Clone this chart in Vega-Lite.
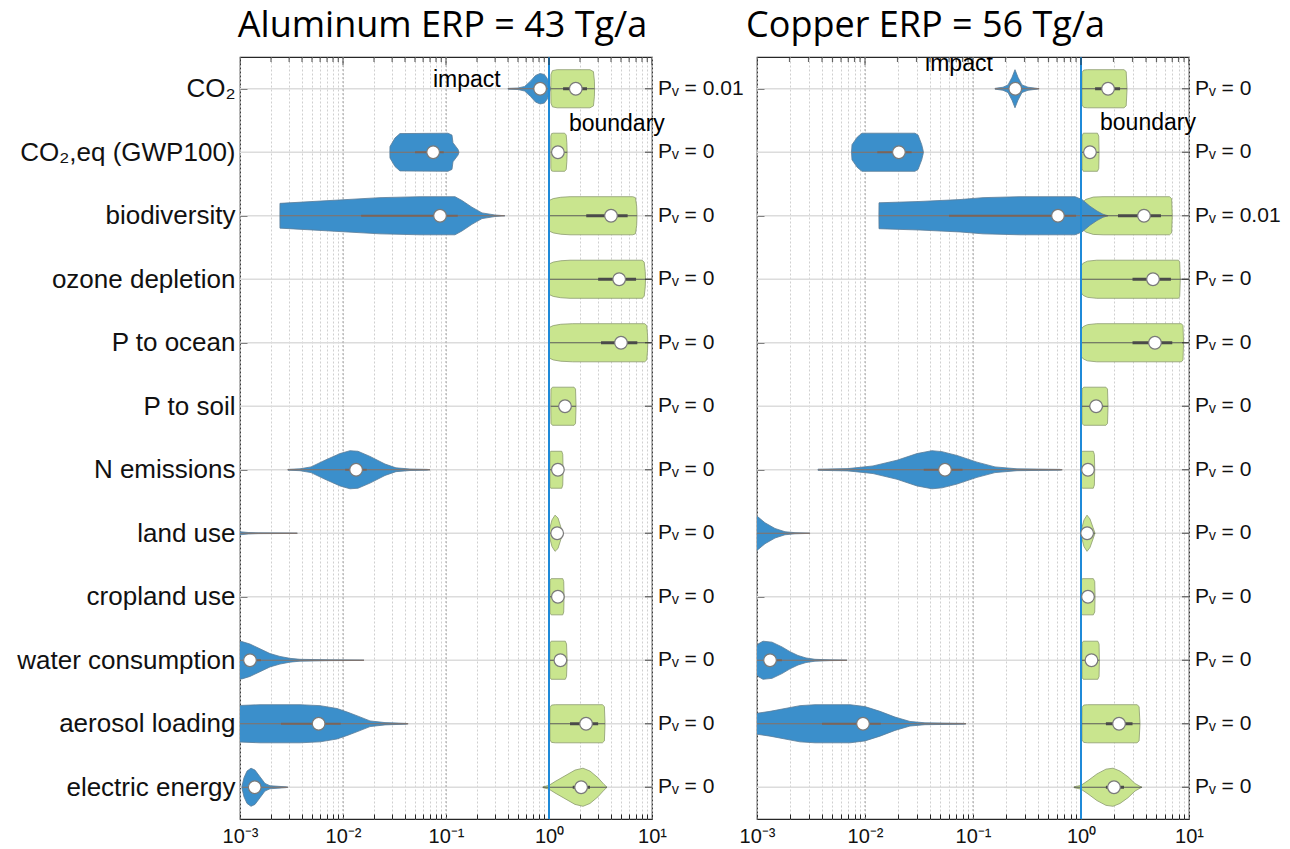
{
  "$schema": "https://vega.github.io/schema/vega-lite/v6.json",
  "padding": {"left": 16, "top": 7, "right": 0, "bottom": 0},
  "background": "white",
  "config": {
    "view": {"stroke": "#262626", "strokeWidth": 1.2},
    "font": "Liberation Sans",
    "axis": {"domain": false, "labelFont": "Liberation Sans", "labelColor": "#111111", "tickColor": "#262626", "title": null}
  },
  "spacing": -7,
  "datasets": {
    "rows": [{"i":0,"pAl":"0.01","pCu":"0"},{"i":1,"pAl":"0","pCu":"0"},{"i":2,"pAl":"0","pCu":"0.01"},{"i":3,"pAl":"0","pCu":"0"},{"i":4,"pAl":"0","pCu":"0"},{"i":5,"pAl":"0","pCu":"0"},{"i":6,"pAl":"0","pCu":"0"},{"i":7,"pAl":"0","pCu":"0"},{"i":8,"pAl":"0","pCu":"0"},{"i":9,"pAl":"0","pCu":"0"},{"i":10,"pAl":"0","pCu":"0"},{"i":11,"pAl":"0","pCu":"0"}],
    "refs": [{"v": 1}],
    "xticks": [{"t":0.001},{"t":0.002},{"t":0.003},{"t":0.004},{"t":0.005},{"t":0.006},{"t":0.007},{"t":0.008},{"t":0.009},{"t":0.01},{"t":0.02},{"t":0.03},{"t":0.04},{"t":0.05},{"t":0.06},{"t":0.07},{"t":0.08},{"t":0.09},{"t":0.1},{"t":0.2},{"t":0.3},{"t":0.4},{"t":0.5},{"t":0.6},{"t":0.7},{"t":0.8},{"t":0.9},{"t":1},{"t":2},{"t":3},{"t":4},{"t":5},{"t":6},{"t":7},{"t":8},{"t":9},{"t":10}],
    "notes": [
      {"panel":"Al","text":"impact","x":0.0748,"y":-0.13,"clip":"no"},
      {"panel":"Al","text":"boundary","x":1.56,"y":0.55,"clip":"no"},
      {"panel":"Cu","text":"impact","x":0.036,"y":-0.39,"clip":"yes"},
      {"panel":"Cu","text":"boundary","x":1.5,"y":0.535,"clip":"no"}
    ],
    "violins": [
      {"panel":"Al","row":0,"type":"boundary","x":[1.04,1.045,1.08,1.2,2.5,2.7,2.76,2.77],"d":[0,0.75,0.95,1,1,0.9,0.4,0]},
      {"panel":"Al","row":1,"type":"boundary","x":[1.04,1.042,1.06,1.1,1.42,1.47,1.49,1.5],"d":[0,0.85,0.98,1,1,0.9,0.5,0]},
      {"panel":"Al","row":2,"type":"boundary","x":[1.0,1.002,1.1,1.3,1.6,6.5,6.9,7.1,7.15],"d":[0,0.8,0.9,0.97,1,1,0.95,0.5,0]},
      {"panel":"Al","row":3,"type":"boundary","x":[1.0,1.002,1.1,1.3,1.6,8.0,8.4,8.6,8.65],"d":[0,0.8,0.9,0.97,1,1,0.9,0.4,0]},
      {"panel":"Al","row":4,"type":"boundary","x":[1.0,1.002,1.1,1.3,1.7,8.5,8.9,9.05,9.1],"d":[0,0.8,0.9,0.97,1,1,0.9,0.4,0]},
      {"panel":"Al","row":5,"type":"boundary","x":[1.04,1.045,1.08,1.75,1.81,1.83],"d":[0,0.9,1,1,0.9,0]},
      {"panel":"Al","row":6,"type":"boundary","x":[1.02,1.022,1.04,1.33,1.36,1.37],"d":[0,0.9,0.97,0.97,0.8,0]},
      {"panel":"Al","row":7,"type":"boundary","x":[0.995,1.0,1.069,1.144,1.223,1.307,1.368],"d":[0,0.1,0.7,0.95,0.8,0.3,0]},
      {"panel":"Al","row":8,"type":"boundary","x":[1.02,1.022,1.05,1.36,1.39,1.4],"d":[0,0.85,0.95,0.95,0.8,0]},
      {"panel":"Al","row":9,"type":"boundary","x":[1.02,1.022,1.05,1.44,1.48,1.5],"d":[0,0.9,1,1,0.85,0]},
      {"panel":"Al","row":10,"type":"boundary","x":[1.02,1.022,1.06,1.15,3.3,3.45,3.5],"d":[0,0.85,0.98,1,1,0.9,0]},
      {"panel":"Al","row":11,"type":"boundary","x":[0.874,1.0,1.144,1.43,1.788,2.138,2.5,2.99,3.42,3.66],"d":[0.02,0.1,0.3,0.6,0.9,1,0.85,0.5,0.15,0]},
      {"panel":"Al","row":0,"type":"impact","x":[0.4,0.5,0.58,0.66,0.74,0.82,0.9,0.96,1.0,1.03],"d":[0.02,0.04,0.12,0.4,0.7,0.8,0.75,0.55,0.25,0.04]},
      {"panel":"Al","row":1,"type":"impact","x":[0.0285,0.02858,0.03197,0.0357,0.1045,0.1143,0.1169,0.1309,0.1337],"d":[0,0.3,0.75,0.98,1,0.9,0.5,0.15,0]},
      {"panel":"Al","row":2,"type":"impact","x":[0.00244,0.002443,0.00748,0.02286,0.056,0.1223,0.1429,0.1786,0.2237,0.299,0.374],"d":[0,0.65,0.8,0.95,1,1,0.8,0.45,0.15,0.04,0]},
      {"panel":"Al","row":6,"type":"impact","x":[0.002924,0.003825,0.004891,0.006687,0.009352,0.0117,0.01398,0.01829,0.02557,0.0327,0.04472,0.06538,0.06994],"d":[0.02,0.05,0.15,0.5,0.85,1,0.97,0.7,0.3,0.1,0.04,0.02,0]},
      {"panel":"Al","row":7,"type":"impact","x":[0.0005,0.001,0.0012,0.0015,0.0035,0.0036],"d":[0.2,0.08,0.04,0.02,0.01,0]},
      {"panel":"Al","row":9,"type":"impact","x":[0.000894,0.001045,0.00125,0.001564,0.001955,0.002443,0.003057,0.003825,0.00748,0.0153,0.016],"d":[1,0.98,0.85,0.6,0.35,0.2,0.1,0.05,0.02,0.01,0]},
      {"panel":"Al","row":10,"type":"impact","x":[0.000894,0.001564,0.003825,0.00598,0.008744,0.01118,0.01398,0.01829,0.02557,0.04089,0.04276],"d":[0.95,1,1,0.95,0.8,0.6,0.4,0.15,0.06,0.02,0]},
      {"panel":"Al","row":11,"type":"impact","x":[0.001045,0.001093,0.00117,0.001279,0.001398,0.001564,0.001749,0.001955,0.002796,0.002924],"d":[0.05,0.5,0.85,1,0.9,0.55,0.2,0.08,0.02,0]},
      {"panel":"Cu","row":0,"type":"boundary","x":[1.02,1.022,1.06,1.15,2.5,2.62,2.67],"d":[0,0.85,0.98,1,1,0.9,0]},
      {"panel":"Cu","row":1,"type":"boundary","x":[1.02,1.022,1.05,1.42,1.46,1.47],"d":[0,0.85,1,1,0.85,0]},
      {"panel":"Cu","row":2,"type":"boundary","x":[1.0,1.005,1.1,1.3,1.6,6.6,6.9,7.0],"d":[0,0.6,0.85,0.98,1,1,0.9,0]},
      {"panel":"Cu","row":3,"type":"boundary","x":[1.0,1.002,1.05,1.15,1.4,8.0,8.2,8.3],"d":[0,0.7,0.85,0.95,1,1,0.9,0]},
      {"panel":"Cu","row":4,"type":"boundary","x":[1.0,1.002,1.05,1.15,1.4,8.5,8.8,8.9],"d":[0,0.7,0.85,0.95,1,1,0.9,0]},
      {"panel":"Cu","row":5,"type":"boundary","x":[1.02,1.022,1.06,1.7,1.76,1.78],"d":[0,0.9,1,1,0.9,0]},
      {"panel":"Cu","row":6,"type":"boundary","x":[1.0,1.003,1.03,1.3,1.33,1.34],"d":[0,0.9,0.97,0.97,0.8,0]},
      {"panel":"Cu","row":7,"type":"boundary","x":[0.995,1.0,1.066,1.137,1.211,1.292,1.348],"d":[0,0.1,0.7,0.95,0.75,0.3,0]},
      {"panel":"Cu","row":8,"type":"boundary","x":[1.0,1.003,1.03,1.3,1.34,1.35],"d":[0,0.85,0.95,0.95,0.8,0]},
      {"panel":"Cu","row":9,"type":"boundary","x":[1.02,1.022,1.05,1.43,1.47,1.48],"d":[0,0.9,1,1,0.85,0]},
      {"panel":"Cu","row":10,"type":"boundary","x":[1.02,1.022,1.06,1.15,3.3,3.45,3.52],"d":[0,0.85,0.98,1,1,0.9,0]},
      {"panel":"Cu","row":11,"type":"boundary","x":[0.8615,1.0,1.161,1.406,1.704,1.979,2.297,2.724,3.162,3.517,3.67],"d":[0.02,0.1,0.35,0.7,0.95,1,0.85,0.55,0.2,0.05,0]},
      {"panel":"Cu","row":0,"type":"impact","x":[0.1598,0.1896,0.2109,0.2297,0.2448,0.261,0.2842,0.323,0.3915,0.4086],"d":[0.02,0.08,0.2,0.6,1,0.6,0.2,0.08,0.02,0]},
      {"panel":"Cu","row":1,"type":"impact","x":[0.0075,0.00758,0.0085,0.00938,0.029,0.031,0.0335,0.0345,0.0347],"d":[0,0.4,0.8,1,1,0.9,0.4,0.1,0]},
      {"panel":"Cu","row":2,"type":"impact","x":[0.01345,0.01348,0.03231,0.0758,0.1238,0.2724,0.88,1.022,1.211,1.406,1.598,1.778],"d":[0,0.68,0.75,0.85,0.95,1,1,0.85,0.5,0.25,0.08,0]},
      {"panel":"Cu","row":6,"type":"impact","x":[0.003672,0.006963,0.01186,0.01978,0.03031,0.04173,0.05164,0.07111,0.1089,0.1598,0.2555,0.6391,0.6695],"d":[0.03,0.06,0.2,0.5,0.85,1,0.95,0.75,0.4,0.15,0.05,0.02,0]},
      {"panel":"Cu","row":7,"type":"impact","x":[0.000862,0.001,0.001186,0.001468,0.001816,0.002248,0.002966,0.003095],"d":[1,0.9,0.55,0.25,0.08,0.03,0.01,0]},
      {"panel":"Cu","row":9,"type":"impact","x":[0.000862,0.000958,0.001022,0.001137,0.001377,0.001704,0.002021,0.002397,0.002843,0.003443,0.004741,0.006528,0.006813],"d":[0.2,0.6,0.85,1,0.95,0.7,0.45,0.25,0.12,0.05,0.02,0.01,0]},
      {"panel":"Cu","row":10,"type":"impact","x":[0.000862,0.001,0.001319,0.001816,0.002501,0.003443,0.007263,0.01,0.01377,0.01896,0.0261,0.03594,0.08254,0.08616],"d":[0.5,0.55,0.65,0.8,0.95,1,1,0.9,0.65,0.35,0.12,0.05,0.02,0]}
    ],
    "stats": [
      {"panel":"Al","row":0,"type":"impact","lo":0.4,"q1":0.7,"med":0.82,"q3":0.9,"hi":1.03},
      {"panel":"Al","row":0,"type":"boundary","lo":1.04,"q1":1.37,"med":1.82,"q3":2.34,"hi":2.77},
      {"panel":"Al","row":1,"type":"impact","lo":0.0286,"q1":0.05,"med":0.075,"q3":0.095,"hi":0.133},
      {"panel":"Al","row":1,"type":"boundary","lo":1.04,"q1":1.12,"med":1.22,"q3":1.35,"hi":1.5},
      {"panel":"Al","row":2,"type":"impact","lo":0.00244,"q1":0.015,"med":0.0875,"q3":0.13,"hi":0.37},
      {"panel":"Al","row":2,"type":"boundary","lo":1.0,"q1":2.3,"med":4.0,"q3":5.8,"hi":7.15},
      {"panel":"Al","row":3,"type":"boundary","lo":1.0,"q1":3.0,"med":4.8,"q3":7.0,"hi":10},
      {"panel":"Al","row":4,"type":"boundary","lo":1.0,"q1":3.2,"med":5.0,"q3":7.2,"hi":10},
      {"panel":"Al","row":5,"type":"boundary","lo":1.04,"q1":1.25,"med":1.43,"q3":1.62,"hi":1.83},
      {"panel":"Al","row":6,"type":"impact","lo":0.0029,"q1":0.0105,"med":0.0134,"q3":0.017,"hi":0.07},
      {"panel":"Al","row":6,"type":"boundary","lo":1.02,"q1":1.1,"med":1.22,"q3":1.3,"hi":1.37},
      {"panel":"Al","row":7,"type":"impact","lo":0.0005,"q1":null,"med":null,"q3":null,"hi":0.0036},
      {"panel":"Al","row":7,"type":"boundary","lo":1.0,"q1":1.12,"med":1.2,"q3":1.27,"hi":1.37},
      {"panel":"Al","row":8,"type":"boundary","lo":1.02,"q1":1.12,"med":1.22,"q3":1.3,"hi":1.4},
      {"panel":"Al","row":9,"type":"impact","lo":0.0009,"q1":0.0011,"med":0.00125,"q3":0.0016,"hi":0.016},
      {"panel":"Al","row":9,"type":"boundary","lo":1.02,"q1":1.15,"med":1.29,"q3":1.38,"hi":1.5},
      {"panel":"Al","row":10,"type":"impact","lo":0.0009,"q1":0.0025,"med":0.0058,"q3":0.0095,"hi":0.043},
      {"panel":"Al","row":10,"type":"boundary","lo":1.02,"q1":1.6,"med":2.29,"q3":3.0,"hi":3.5},
      {"panel":"Al","row":11,"type":"impact","lo":0.00105,"q1":0.00125,"med":0.00139,"q3":0.00155,"hi":0.0029},
      {"panel":"Al","row":11,"type":"boundary","lo":0.87,"q1":1.7,"med":2.05,"q3":2.5,"hi":3.66},
      {"panel":"Cu","row":0,"type":"impact","lo":0.16,"q1":0.235,"med":0.246,"q3":0.258,"hi":0.41},
      {"panel":"Cu","row":0,"type":"boundary","lo":1.02,"q1":1.35,"med":1.78,"q3":2.3,"hi":2.67},
      {"panel":"Cu","row":1,"type":"impact","lo":0.0076,"q1":0.013,"med":0.0206,"q3":0.027,"hi":0.0347},
      {"panel":"Cu","row":1,"type":"boundary","lo":1.02,"q1":1.1,"med":1.21,"q3":1.35,"hi":1.47},
      {"panel":"Cu","row":2,"type":"impact","lo":0.0135,"q1":0.06,"med":0.612,"q3":0.9,"hi":1.78},
      {"panel":"Cu","row":2,"type":"boundary","lo":1.0,"q1":2.2,"med":3.83,"q3":5.5,"hi":7.0},
      {"panel":"Cu","row":3,"type":"boundary","lo":1.0,"q1":3.0,"med":4.64,"q3":6.8,"hi":10},
      {"panel":"Cu","row":4,"type":"boundary","lo":1.0,"q1":3.0,"med":4.84,"q3":7.0,"hi":10},
      {"panel":"Cu","row":5,"type":"boundary","lo":1.02,"q1":1.2,"med":1.38,"q3":1.6,"hi":1.78},
      {"panel":"Cu","row":6,"type":"impact","lo":0.0037,"q1":0.035,"med":0.055,"q3":0.08,"hi":0.67},
      {"panel":"Cu","row":6,"type":"boundary","lo":1.0,"q1":1.08,"med":1.16,"q3":1.25,"hi":1.34},
      {"panel":"Cu","row":7,"type":"impact","lo":0.0008,"q1":null,"med":null,"q3":null,"hi":0.0031},
      {"panel":"Cu","row":7,"type":"boundary","lo":1.0,"q1":1.08,"med":1.14,"q3":1.2,"hi":1.35},
      {"panel":"Cu","row":8,"type":"boundary","lo":1.0,"q1":1.08,"med":1.16,"q3":1.25,"hi":1.35},
      {"panel":"Cu","row":9,"type":"impact","lo":0.00096,"q1":0.0012,"med":0.00132,"q3":0.0017,"hi":0.0068},
      {"panel":"Cu","row":9,"type":"boundary","lo":1.02,"q1":1.12,"med":1.25,"q3":1.38,"hi":1.48},
      {"panel":"Cu","row":10,"type":"impact","lo":0.00086,"q1":0.004,"med":0.00958,"q3":0.014,"hi":0.086},
      {"panel":"Cu","row":10,"type":"boundary","lo":1.02,"q1":1.7,"med":2.25,"q3":3.0,"hi":3.52},
      {"panel":"Cu","row":11,"type":"boundary","lo":0.86,"q1":1.7,"med":2.02,"q3":2.5,"hi":3.67}
    ]
  },
  "hconcat": [
    {
      "width": 412, "height": 762,
      "title": {"text": "Aluminum ERP = 43 Tg/a", "font": "Open Sans", "fontSize": 36, "fontWeight": "normal", "color": "#000000", "anchor": "start", "dx": 221, "offset": 11},
      "layer": [
        {"data": {"name": "rows"}, "mark": {"type": "rule", "color": "#dcdcdc", "strokeWidth": 1.5},
         "encoding": {"y": {"field": "i", "type": "quantitative", "scale": {"domain": [-0.5, 11.5], "reverse": true, "nice": false, "zero": false},
           "axis": {"orient": "left", "values": [0,1,2,3,4,5,6,7,8,9,10,11], "grid": false, "tickSize": -7, "labelPadding": 12, "labelFontSize": 26, "labelLimit": 400, "labelColor": "#111111",
             "labelExpr": "['CO₂','CO₂,eq (GWP100)','biodiversity','ozone depletion','P to ocean','P to soil','N emissions','land use','cropland use','water consumption','aerosol loading','electric energy'][datum.value]"}}}},
        {"data": {"name": "xticks"}, "transform": [{"filter": "abs(log(datum.t)/LN10 - round(log(datum.t)/LN10)) < 0.01"}],
         "mark": {"type": "rule", "color": "#a8a8a8", "strokeDash": [2, 2], "strokeWidth": 1},
         "encoding": {"x": {"field": "t", "type": "quantitative"}}},
        {"data": {"name": "violins"}, "transform": [{"filter": "datum.panel == 'Al'"}, {"flatten": ["x", "d"]}, {"calculate": "datum.row - 0.3 * datum.d", "as": "lo"}, {"calculate": "datum.row + 0.3 * datum.d", "as": "hi"}],
         "mark": {"type": "area", "orient": "vertical", "clip": true, "strokeWidth": 0.8, "fillOpacity": 1},
         "encoding": {
           "x": {"field": "x", "type": "quantitative", "scale": {"type": "log", "domain": [0.001, 10], "nice": false},
             "axis": {"orient": "bottom", "values": [0.001,0.002,0.003,0.004,0.005,0.006,0.007,0.008,0.009,0.01,0.02,0.03,0.04,0.05,0.06,0.07,0.08,0.09,0.1,0.2,0.3,0.4,0.5,0.6,0.7,0.8,0.9,1,2,3,4,5,6,7,8,9,10],
               "grid": true, "gridDash": [2, 2], "gridWidth": 1, "gridColor": "#cfcfcf",
               "tickSize": -5, "labelPadding": 12, "labelFontSize": 20, "labelOverlap": false, "labelFlush": false,
               "labelExpr": "abs(log(datum.value)/LN10 - round(log(datum.value)/LN10)) < 0.01 ? '10' + ['⁻³','⁻²','⁻¹','⁰','¹'][round(log(datum.value)/LN10) + 3] : ''"}},
           "y": {"field": "lo", "type": "quantitative"},
           "y2": {"field": "hi"},
           "detail": [{"field": "row"}, {"field": "type"}],
           "fill": {"condition": {"test": "datum.type == 'impact'", "value": "#3b8fcb"}, "value": "#c9e58e"},
           "stroke": {"condition": {"test": "datum.type == 'impact'", "value": "#5a7c98"}, "value": "#8c9a6e"}
         }},
        {"data": {"name": "stats"}, "transform": [{"filter": "datum.panel == 'Al'"}],
         "mark": {"type": "rule", "clip": true, "strokeWidth": 1.1},
         "encoding": {
           "x": {"field": "lo", "type": "quantitative"},
           "x2": {"field": "hi"},
           "y": {"field": "row", "type": "quantitative"},
           "color": {"condition": {"test": "datum.type == 'impact'", "value": "#8a7062"}, "value": "#5a5a5a"}
         }},
        {"data": {"name": "stats"}, "transform": [{"filter": "datum.panel == 'Al'"}],
         "mark": {"type": "rule", "clip": true},
         "encoding": {
           "x": {"field": "q1", "type": "quantitative"},
           "x2": {"field": "q3"},
           "y": {"field": "row", "type": "quantitative"},
           "color": {"condition": {"test": "datum.type == 'impact'", "value": "#7d6458"}, "value": "#4a4a4a"},
           "strokeWidth": {"condition": {"test": "datum.type == 'impact'", "value": 2}, "value": 3}
         }},
        {"data": {"name": "refs"}, "mark": {"type": "rule", "color": "#1f8ad8", "strokeWidth": 2},
         "encoding": {"x": {"field": "v", "type": "quantitative"}}},
        {"data": {"name": "stats"}, "transform": [{"filter": "datum.panel == 'Al'"}],
         "mark": {"type": "point", "clip": true, "filled": true, "fill": "white", "stroke": "#7a7a7a", "strokeWidth": 1.2, "size": 160, "opacity": 1},
         "encoding": {
           "x": {"field": "med", "type": "quantitative"},
           "y": {"field": "row", "type": "quantitative"}
         }},
        {"data": {"name": "xticks"}, "mark": {"type": "tick", "orient": "vertical", "clip": true, "color": "#262626", "thickness": 1.2},
         "encoding": {
           "x": {"field": "t", "type": "quantitative"},
           "y": {"value": 0},
           "size": {"condition": {"test": "abs(log(datum.t)/LN10 - round(log(datum.t)/LN10)) < 0.01", "value": 16}, "value": 10}
         }},
        {"data": {"name": "rows"}, "mark": {"type": "tick", "orient": "horizontal", "clip": true, "color": "#262626", "thickness": 1.2, "size": 14},
         "encoding": {
           "x": {"value": "width"},
           "y": {"field": "i", "type": "quantitative"}
         }},
        {"data": {"name": "rows"}, "transform": [{"calculate": "'Pᵥ = ' + datum.pAl", "as": "lab"}],
         "mark": {"type": "text", "align": "left", "baseline": "middle", "dx": 6, "fontSize": 21, "font": "Liberation Sans", "color": "#111111"},
         "encoding": {
           "x": {"value": "width"},
           "y": {"field": "i", "type": "quantitative"},
           "text": {"field": "lab", "type": "nominal"}
         }},
        {"data": {"name": "notes"}, "transform": [{"filter": "datum.panel == 'Al'"}],
         "mark": {"type": "text", "clip": false, "align": "left", "baseline": "middle", "fontSize": 23, "font": "Liberation Sans", "color": "#000000"},
         "encoding": {
           "x": {"field": "x", "type": "quantitative"},
           "y": {"field": "y", "type": "quantitative"},
           "text": {"field": "text"}
         }}
      ]
    },
    {
      "width": 432, "height": 762,
      "title": {"text": "Copper ERP = 56 Tg/a", "font": "Open Sans", "fontSize": 36, "fontWeight": "normal", "color": "#000000", "anchor": "start", "dx": 7, "offset": 11},
      "layer": [
        {"data": {"name": "rows"}, "mark": {"type": "rule", "color": "#dcdcdc", "strokeWidth": 1.5},
         "encoding": {"y": {"field": "i", "type": "quantitative", "scale": {"domain": [-0.5, 11.5], "reverse": true, "nice": false, "zero": false},
           "axis": {"orient": "left", "values": [0,1,2,3,4,5,6,7,8,9,10,11], "grid": false, "tickSize": -7, "labels": false}}}},
        {"data": {"name": "xticks"}, "transform": [{"filter": "abs(log(datum.t)/LN10 - round(log(datum.t)/LN10)) < 0.01"}],
         "mark": {"type": "rule", "color": "#a8a8a8", "strokeDash": [2, 2], "strokeWidth": 1},
         "encoding": {"x": {"field": "t", "type": "quantitative"}}},
        {"data": {"name": "violins"}, "transform": [{"filter": "datum.panel == 'Cu'"}, {"flatten": ["x", "d"]}, {"calculate": "datum.row - 0.3 * datum.d", "as": "lo"}, {"calculate": "datum.row + 0.3 * datum.d", "as": "hi"}],
         "mark": {"type": "area", "orient": "vertical", "clip": true, "strokeWidth": 0.8, "fillOpacity": 1},
         "encoding": {
           "x": {"field": "x", "type": "quantitative", "scale": {"type": "log", "domain": [0.001, 10], "nice": false},
             "axis": {"orient": "bottom", "values": [0.001,0.002,0.003,0.004,0.005,0.006,0.007,0.008,0.009,0.01,0.02,0.03,0.04,0.05,0.06,0.07,0.08,0.09,0.1,0.2,0.3,0.4,0.5,0.6,0.7,0.8,0.9,1,2,3,4,5,6,7,8,9,10],
               "grid": true, "gridDash": [2, 2], "gridWidth": 1, "gridColor": "#cfcfcf",
               "tickSize": -5, "labelPadding": 12, "labelFontSize": 20, "labelOverlap": false, "labelFlush": false,
               "labelExpr": "abs(log(datum.value)/LN10 - round(log(datum.value)/LN10)) < 0.01 ? '10' + ['⁻³','⁻²','⁻¹','⁰','¹'][round(log(datum.value)/LN10) + 3] : ''"}},
           "y": {"field": "lo", "type": "quantitative"},
           "y2": {"field": "hi"},
           "detail": [{"field": "row"}, {"field": "type"}],
           "fill": {"condition": {"test": "datum.type == 'impact'", "value": "#3b8fcb"}, "value": "#c9e58e"},
           "stroke": {"condition": {"test": "datum.type == 'impact'", "value": "#5a7c98"}, "value": "#8c9a6e"}
         }},
        {"data": {"name": "stats"}, "transform": [{"filter": "datum.panel == 'Cu'"}],
         "mark": {"type": "rule", "clip": true, "strokeWidth": 1.1},
         "encoding": {
           "x": {"field": "lo", "type": "quantitative"},
           "x2": {"field": "hi"},
           "y": {"field": "row", "type": "quantitative"},
           "color": {"condition": {"test": "datum.type == 'impact'", "value": "#8a7062"}, "value": "#5a5a5a"}
         }},
        {"data": {"name": "stats"}, "transform": [{"filter": "datum.panel == 'Cu'"}],
         "mark": {"type": "rule", "clip": true},
         "encoding": {
           "x": {"field": "q1", "type": "quantitative"},
           "x2": {"field": "q3"},
           "y": {"field": "row", "type": "quantitative"},
           "color": {"condition": {"test": "datum.type == 'impact'", "value": "#7d6458"}, "value": "#4a4a4a"},
           "strokeWidth": {"condition": {"test": "datum.type == 'impact'", "value": 2}, "value": 3}
         }},
        {"data": {"name": "refs"}, "mark": {"type": "rule", "color": "#1f8ad8", "strokeWidth": 2},
         "encoding": {"x": {"field": "v", "type": "quantitative"}}},
        {"data": {"name": "stats"}, "transform": [{"filter": "datum.panel == 'Cu'"}],
         "mark": {"type": "point", "clip": true, "filled": true, "fill": "white", "stroke": "#7a7a7a", "strokeWidth": 1.2, "size": 160, "opacity": 1},
         "encoding": {
           "x": {"field": "med", "type": "quantitative"},
           "y": {"field": "row", "type": "quantitative"}
         }},
        {"data": {"name": "xticks"}, "mark": {"type": "tick", "orient": "vertical", "clip": true, "color": "#262626", "thickness": 1.2},
         "encoding": {
           "x": {"field": "t", "type": "quantitative"},
           "y": {"value": 0},
           "size": {"condition": {"test": "abs(log(datum.t)/LN10 - round(log(datum.t)/LN10)) < 0.01", "value": 16}, "value": 10}
         }},
        {"data": {"name": "rows"}, "mark": {"type": "tick", "orient": "horizontal", "clip": true, "color": "#262626", "thickness": 1.2, "size": 14},
         "encoding": {
           "x": {"value": "width"},
           "y": {"field": "i", "type": "quantitative"}
         }},
        {"data": {"name": "rows"}, "transform": [{"calculate": "'Pᵥ = ' + datum.pCu", "as": "lab"}],
         "mark": {"type": "text", "align": "left", "baseline": "middle", "dx": 6, "fontSize": 21, "font": "Liberation Sans", "color": "#111111"},
         "encoding": {
           "x": {"value": "width"},
           "y": {"field": "i", "type": "quantitative"},
           "text": {"field": "lab", "type": "nominal"}
         }},
        {"data": {"name": "notes"}, "transform": [{"filter": "datum.panel == 'Cu' && datum.clip == 'no'"}],
         "mark": {"type": "text", "clip": false, "align": "left", "baseline": "middle", "fontSize": 23, "font": "Liberation Sans", "color": "#000000"},
         "encoding": {
           "x": {"field": "x", "type": "quantitative"},
           "y": {"field": "y", "type": "quantitative"},
           "text": {"field": "text"}
         }},
        {"data": {"name": "notes"}, "transform": [{"filter": "datum.panel == 'Cu' && datum.clip == 'yes'"}],
         "mark": {"type": "text", "clip": true, "align": "left", "baseline": "middle", "fontSize": 23, "font": "Liberation Sans", "color": "#000000"},
         "encoding": {
           "x": {"field": "x", "type": "quantitative"},
           "y": {"field": "y", "type": "quantitative"},
           "text": {"field": "text"}
         }}
      ]
    }
  ]
}
